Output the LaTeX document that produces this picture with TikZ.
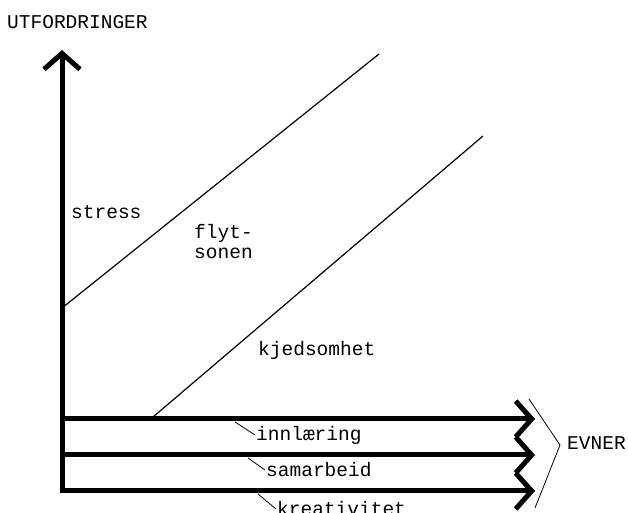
\documentclass[tikz,border=0pt]{standalone}
\usepackage{fontspec}
\setmonofont{Liberation Mono}
\usetikzlibrary{arrows.meta,positioning}

\begin{document}
\begin{tikzpicture}[x=1pt, y=1pt,
    barb/.tip={Straight Barb[length=16pt, width=36pt]},
    axisline/.style={line width=5pt},
    thinline/.style={line width=1.2pt},
    lab/.style={font=\ttfamily\fontsize{19.5}{20}\selectfont, inner sep=1pt, anchor=west}]
  \useasboundingbox (0,0) rectangle (628,513);
  \clip (0,0) rectangle (628,513);

  % Axes
  \coordinate (O) at (62,22);
  \coordinate (ytop) at (62,463);
  \coordinate (row1) at (62,94);
  \coordinate (row2) at (62,58);
  \coordinate (end1) at (535,94);
  \coordinate (end2) at (535,58);
  \coordinate (end3) at (535,22);
  \draw[axisline, {barb}-{barb}] (ytop) -- (O) -- (end3);
  \draw[axisline, -{barb}] (row1) -- (end1);
  \draw[axisline, -{barb}] (row2) -- (end2);

  \node[lab] (yl) at (6,491) {UTFORDRINGER};

  % Zone borders
  \coordinate (a1) at (62,205);
  \coordinate (a2) at (379,459);
  \coordinate (b1) at (153,96);
  \coordinate (b2) at (483,377);
  \draw[thinline] (a1) -- (a2);
  \draw[thinline] (b1) -- (b2);

  % Zone labels
  \node[lab] (stress) at (70,301) {stress};
  \node[lab, align=left] (flyt) at (193,271) {flyt-\\sonen};
  \node[lab] (kjed) at (257,163) {kjedsomhet};

  % Ability labels with leaders
  \node[lab] (innl) at (255,78) {innlæring};
  \node[lab] (samb) at (265,43) {samarbeid};
  \node[lab] (krea) at (276,4) {kreativitet};
  \coordinate (l1) at (235,91);
  \coordinate (l2) at (248,55);
  \coordinate (l3) at (258,19);
  \draw[line width=0.8pt] (l1) -- (innl.west);
  \draw[line width=0.8pt] (l2) -- (samb.west);
  \draw[line width=0.8pt] (l3) -- (krea.west);

  % Brace towards EVNER
  \coordinate (br1) at (529,114);
  \coordinate (br2) at (560,68);
  \coordinate (br3) at (535,5);
  \draw[line width=0.8pt] (br1) -- (br2) -- (br3);
  \node[lab] (evner) at (566,70) {EVNER};
\end{tikzpicture}
\end{document}
